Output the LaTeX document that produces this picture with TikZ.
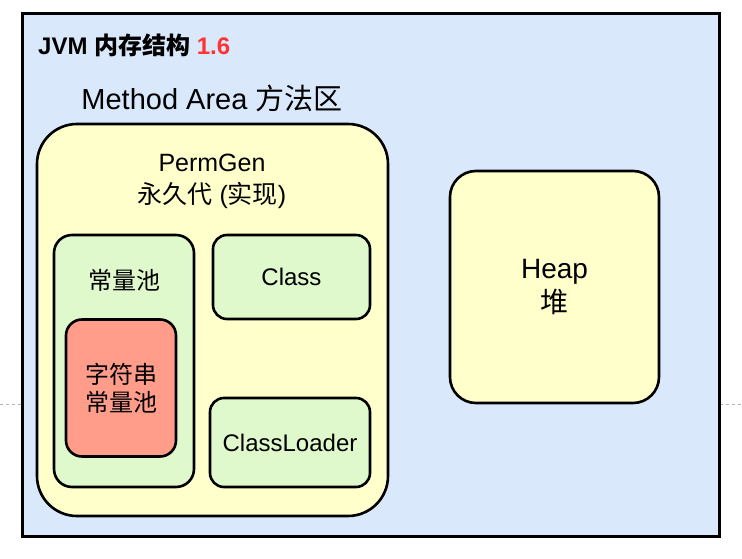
\documentclass[tikz,border=0pt]{standalone}
\usepackage{fontspec}
\setmainfont{Liberation Sans}
\newfontfamily\cjk{Noto Sans CJK SC}
\usetikzlibrary{positioning}
\definecolor{jvmblue}{HTML}{DAE8FC}
\definecolor{permyellow}{HTML}{FFFFCC}
\definecolor{poolgreen}{HTML}{E0F9CC}
\definecolor{strred}{HTML}{FF9C8A}
\definecolor{titlered}{HTML}{FF3333}

\begin{document}
\begin{tikzpicture}[x=1pt,y=-1pt,
  area/.style={draw=black,line width=2.6pt,rounded corners=#1,inner sep=0pt,align=center},
  area/.default=14pt,
  lbl/.style={align=center,inner sep=0pt,font=\fontsize{24}{28}\selectfont}
]
\useasboundingbox (0,0) rectangle (742,559);
\draw[gray!60,dashed,line width=0.8pt] (0,404) -- (742,404);

\node[area=0pt,fill=jvmblue,line width=3pt,minimum width=697pt,minimum height=522pt] (jvm) at (370.5,275) {};
\node[anchor=west,inner sep=0pt,font=\fontsize{24}{28}\selectfont\bfseries] (title) at (38,45)
  {JVM {\cjk 内存结构} \textcolor{titlered}{1.6}};
\node[lbl,font=\fontsize{29}{32}\selectfont] (method) at (212,98) {Method Area {\cjk 方法区}};

% PermGen
\node[area=40pt,fill=permyellow,minimum width=351pt,minimum height=392pt] (perm) at (212.5,320) {};
\node[lbl,font=\fontsize{25}{32}\selectfont] (permtxt) at (212,181) {PermGen\\{\cjk 永久代} ({\cjk 实现})};

\node[area=18pt,fill=poolgreen,minimum width=140pt,minimum height=252pt] (pool) at (124,361) {};
\node[lbl] (pooltxt) at (124,280) {\cjk 常量池};
\node[area=16pt,fill=strred,minimum width=110pt,minimum height=137pt,
  font=\fontsize{24}{28}\selectfont\cjk] (strpool) at (121,388) {字符串\\常量池};

\node[area,fill=poolgreen,minimum width=157pt,minimum height=84pt,font=\fontsize{24}{28}\selectfont] (class) at (291.5,277) {Class};
\node[area,fill=poolgreen,minimum width=160pt,minimum height=89pt,font=\fontsize{24}{28}\selectfont] (loader) at (290,442.5) {ClassLoader};

% Heap
\node[area=26pt,fill=permyellow,minimum width=209pt,minimum height=232pt,font=\fontsize{28}{34}\selectfont] (heap) at (554.5,287) {Heap\\{\cjk 堆}};
\end{tikzpicture}
\end{document}
